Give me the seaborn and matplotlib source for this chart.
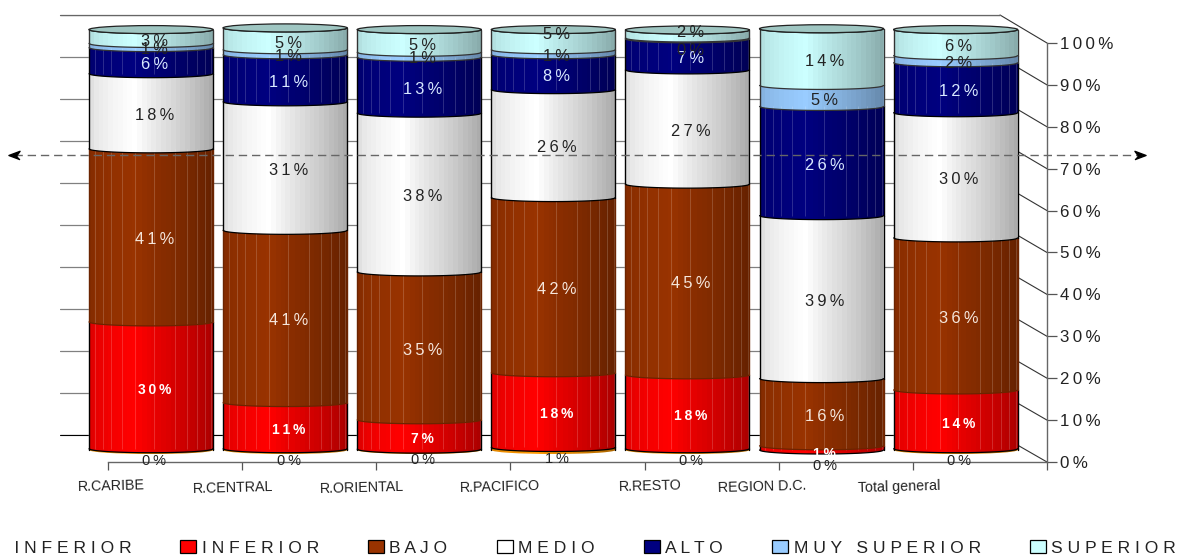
import numpy as np
import pandas as pd
import matplotlib
matplotlib.use("Agg")
import matplotlib.pyplot as plt
import seaborn as sns
from matplotlib.lines import Line2D
from matplotlib.patches import ConnectionPatch, Ellipse, Polygon

# === Data ===
regions = ["R.CARIBE", "R.CENTRAL", "R.ORIENTAL", "R.PACIFICO", "R.RESTO", "REGION D.C.", "Total general"]
series_names = ["MUY INFERIOR", "INFERIOR", "BAJO", "MEDIO", "ALTO", "MUY SUPERIOR", "SUPERIOR"]
muy_inferior = [0.3, 0.3, 0.2, 0.6, 0.3, 0.0, 0.3]
inferior = [30.2, 11.0, 7.0, 17.8, 17.6, 1.0, 14.0]
bajo = [41.2, 41.0, 35.2, 41.7, 45.4, 16.0, 36.2]
medio = [17.9, 30.6, 37.8, 25.7, 27.2, 38.8, 29.8]
alto = [6.2, 11.2, 13.3, 8.3, 7.4, 26.0, 11.9]
muy_superior = [1.0, 1.2, 1.2, 1.2, 0.2, 5.0, 1.7]
superior = [3.3, 5.2, 5.4, 4.8, 1.9, 13.5, 6.2]
all_values = [muy_inferior, inferior, bajo, medio, alto, muy_superior, superior]
percent_ticks = list(range(0, 101, 10))

colors = ["#ff9900", "#ff0000", "#993300", "#ffffff", "#000080", "#99ccff", "#ccffff"]
label_colors = ["#222222", "#ffffff", "#f5e6dc", "#222222", "#d8e8ff", "#222222", "#222222"]

W, H = 1178, 556
sns.set_style("white")
plt.rcParams["font.family"] = ["Liberation Sans", "DejaVu Sans"]


def spaced(txt, sep="\u2009"):
    return sep.join(txt)


def box(x0, y_top, x1, y_bot):
    # pixel box (y from the top) -> figure fraction
    return [x0 / W, 1 - y_bot / H, (x1 - x0) / W, (y_bot - y_top) / H]


fig = plt.figure(figsize=(W / 100, H / 100), dpi=100)

# back wall with its gridlines
ax_back = fig.add_axes(box(60, 15, 1000, 435), zorder=0)
ax_back.set_ylim(0, 100)
ax_back.set_xlim(0, 1)
ax_back.set_xticks([])
ax_back.set_yticks(percent_ticks)
ax_back.tick_params(left=False, labelleft=False)
ax_back.grid(axis="y", color="#808080", lw=0.9)
ax_back.patch.set_alpha(0)
sns.despine(ax=ax_back, left=True, bottom=True, top=True, right=True)
ax_back.axhline(0, color="black", lw=0.8, clip_on=False)
ax_back.axhline(100, color="#666666", lw=0.9, clip_on=False)

# front axis, the one with the ticks
ax_front = fig.add_axes(box(108, 43, 1047, 462), zorder=1)
ax_front.set_ylim(0, 100)
ax_front.set_xlim(0, len(regions))
ax_front.patch.set_alpha(0)
ax_front.yaxis.tick_right()
ax_front.set_yticks(percent_ticks)
ax_front.set_yticklabels([spaced(f"{t}%") for t in percent_ticks], fontsize=12.2, color="#222222")
ax_front.set_xticks(range(len(regions) + 1))
ax_front.set_xticklabels([])
ax_front.tick_params(axis="y", right=True, length=7, width=0.9, color="#555555", pad=2.5)
ax_front.tick_params(axis="x", bottom=True, length=6, width=0.9, color="#555555")
for side in ["top", "left"]:
    ax_front.spines[side].set_visible(False)
for side in ["bottom", "right"]:
    ax_front.spines[side].set_color("#666666")
    ax_front.spines[side].set_linewidth(1.0)

# diagonals joining back wall and front axis
for t in percent_ticks:
    ax_back.add_artist(ConnectionPatch((1, t), (1, t), coordsA=ax_back.get_yaxis_transform(),
                                       coordsB=ax_front.get_yaxis_transform(),
                                       color="#333333", lw=0.8, zorder=0))

# category names, slightly tilted like the original
name_x = [111, 233, 362, 500, 650, 762, 899]
name_y = [486, 488, 488, 487, 486, 487, 487]
for name, nx, ny in zip(regions, name_x, name_y):
    fig.text(nx / W, 1 - ny / H, name, ha="center", va="center", fontsize=10.3, rotation=1.5, color="#222222")

# cylinders
ax = fig.add_axes(box(84, 15, 84 + 7 * 134.1, 462), zorder=2)
px = 4.2  # pixels per percent
ax.patch.set_alpha(0)
sag = 4 / px  # half height of the ellipses, in percent
bottoms = np.zeros(len(regions))
for i, (name, vals) in enumerate(zip(series_names, all_values)):
    df = pd.DataFrame({"region": regions, "value": vals})
    n_before = len(ax.patches)
    sns.barplot(data=df, x="region", y="value", order=regions, color=colors[i], saturation=1,
                width=0.925, bottom=bottoms, linewidth=0, ax=ax, zorder=2 + i)
    for rect in ax.patches[n_before:]:
        cx = rect.get_x() + rect.get_width() / 2
        if rect.get_height() > 0:
            ax.add_patch(Ellipse((cx, rect.get_y()), rect.get_width(), 2 * sag, color=colors[i], lw=0, zorder=2 + i))
    bottoms = bottoms + np.array(vals)

ax.set_xlabel("")
ax.set_ylabel("")
ax.axis("off")

bar_w = 0.925
arc = np.linspace(-1, 1, 81)


def lower_arc(cx, y):
    return cx + arc * bar_w / 2, y - sag * np.sqrt(1 - arc ** 2)


# banded shading across each cylinder
stops_x = [0, 0.06, 0.2, 0.36, 0.55, 0.8, 1]
stops_a = [0.14, 0.09, 0.04, 0.0, 0.10, 0.22, 0.34]
n_bands = 26
band_a = np.interp((np.arange(n_bands) + 0.5) / n_bands, stops_x, stops_a)
shade = np.zeros((1, n_bands, 4))
shade[0, :, 3] = band_a
streak_pos = [-0.47, -0.42, -0.36, -0.30, -0.22, -0.12, 0.02, 0.18, 0.27, 0.34, 0.40, 0.45]
edge_colors = ["black", "black", "#6b2400", "black", "black", "#333333", "#333333"]

tops = np.sum(all_values, axis=0)
for j, region in enumerate(regions):
    ax_x, ax_y = lower_arc(j, 0)
    outline = np.column_stack([np.r_[j - bar_w / 2, ax_x, j + bar_w / 2], np.r_[tops[j], ax_y, tops[j]]])
    clip = Polygon(outline, closed=True, transform=ax.transData, fc="none", lw=0)
    ax.add_patch(clip)
    im = ax.imshow(shade, extent=(j - bar_w / 2, j + bar_w / 2, -sag, tops[j]), aspect="auto",
                   interpolation="nearest", zorder=20)
    im.set_clip_path(clip)

    # light streaks on the dark segments, dark arcs on every joint
    low = 0.0
    for i, vals in enumerate(all_values):
        high = low + vals[j]
        if i in (1, 2, 4) and vals[j] > 0:
            ax.vlines([j + s for s in streak_pos], low, high, color="white", alpha=0.2, lw=0.6, zorder=21)
        if vals[j] > 0:
            ax.plot([j - bar_w / 2] * 2, [low, high], color=edge_colors[i], lw=1.0, zorder=22)
            ax.plot([j + bar_w / 2] * 2, [low, high], color=edge_colors[i], lw=1.0, zorder=22)
        if i > 0 and vals[j] > 0:
            xs, ys = lower_arc(j, low)
            ax.plot(xs, ys, color=edge_colors[i], lw=0.9, zorder=22)
        low = high
    xs, ys = lower_arc(j, tops[j])
    ax.plot(xs, ys, color="black", lw=0.9, zorder=23)
    ax.add_patch(Ellipse((j, tops[j]), bar_w, 2 * sag, fc="#9fc6c2", ec="#222222", lw=0.9, zorder=23))

ax.set_xlim(-0.5, 6.5)
ax.set_ylim(-12 / px, 100 + 15 / px)

# value labels; a few were moved by hand in the original, nudges are in pixels (up is positive)
nudge = {(6, 3): 9, (6, 4): 6, (5, 4): -8, (0, 2): 1, (0, 3): 2, (0, 5): -5, (1, 5): -2, (6, 0): -1}
low = np.zeros(len(regions))
for i, vals in enumerate(all_values):
    for j, v in enumerate(vals):
        y = low[j] + v / 2 - 1.0
        if i == 0:
            y = -2.6
        y += nudge.get((i, j), 0) / px
        size = 11.8
        weight = "normal"
        if i == 1:
            size, weight = 10, "bold"
        ax.text(j + 0.025, y, spaced(f"{v:.0f}%"), ha="center", va="center", color=label_colors[i],
                fontsize=10.5 if i == 0 else size, fontweight=weight, zorder=30)
    low = low + np.array(vals)

# dashed arrow crossing the chart
arrow_y = 1 - 155 / H
fig.add_artist(Line2D([14 / W, 1140 / W], [arrow_y, arrow_y], color="#666666", lw=1.0, ls=(0, (6, 3.5)), zorder=5))
head_r = [(-1, -0.75), (1, 0), (-1, 0.75), (-0.45, 0)]
head_l = [(-a, b) for a, b in head_r]
fig.add_artist(Line2D([1140 / W], [arrow_y], marker=head_r, ms=8, color="black", zorder=6))
fig.add_artist(Line2D([14 / W], [arrow_y], marker=head_l, ms=8, color="black", zorder=6))

# legend, the first entry runs off the left edge as in the source
handles = [plt.Rectangle((0, 0), 1, 1, fc=c, ec="black", lw=0.9) for c in colors]
labels = [" ".join(n) for n in series_names]
fig.legend(handles, labels, ncol=7, loc="center", bbox_to_anchor=(553 / W, 1 - 548 / H), frameon=False,
           fontsize=12.6, columnspacing=2.8, handlelength=0.93, handleheight=0.7, handletextpad=0.3,
           borderpad=0, borderaxespad=0, labelcolor="#222222")

fig.savefig("out.png", dpi=100)
